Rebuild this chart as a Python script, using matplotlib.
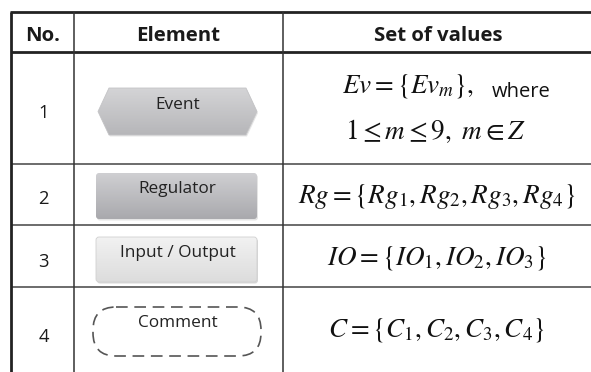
import matplotlib
matplotlib.use("Agg")
import matplotlib.pyplot as plt
import numpy as np
from matplotlib.patches import Polygon, FancyBboxPatch

# ---- table content ----
headers = ["No.", "Element", "Set of values"]
numbers = ["1", "2", "3", "4"]
elements = ["Event", "Regulator", "Input / Output", "Comment"]
formulas = [
    r"$Ev=\{Ev_m\},$",
    r"$Rg=\{Rg_1,Rg_2,Rg_3,Rg_4\}$",
    r"$IO=\{IO_1,IO_2,IO_3\}$",
    r"$C=\{C_1,C_2,C_3,C_4\}$",
]
formula_extra = r"$1\leq m\leq 9,\ m\in Z$"
where_word = "where"

plt.rcParams['mathtext.fontset'] = 'stix'
SANS = ['Open Sans', 'DejaVu Sans']

W, H = 591, 372
fig = plt.figure(figsize=(W / 100, H / 100), dpi=100)
ax = fig.add_axes([0, 0, 1, 1])
ax.set_xlim(0, W)
ax.set_ylim(H, 0)
ax.axis('off')

# ---- grid lines ----
x_left, x_c1, x_c2, x_right = 11, 74, 283, 591
y_top, y_head = 12, 52
row_bounds = [52, 164, 225, 287, 372]
ax.plot([x_left - 1.5, x_right], [y_top, y_top], color='#222222', lw=2.0, solid_capstyle='butt')
ax.plot([x_left, x_right], [y_head, y_head], color='#222222', lw=2.0, solid_capstyle='butt')
for yb in row_bounds[1:-1]:
    ax.plot([x_left, x_right], [yb, yb], color='#444444', lw=1.1, solid_capstyle='butt')
ax.plot([x_left, x_left], [y_top, H], color='#222222', lw=2.0, solid_capstyle='butt')
for xc in (x_c1, x_c2):
    ax.plot([xc, xc], [y_top, H], color='#333333', lw=1.1, solid_capstyle='butt')

# ---- header ----
hx = [(x_left + x_c1) / 2, (x_c1 + x_c2) / 2, 438]
for t, xx in zip(headers, hx):
    ax.text(xx, 41, t, ha='center', va='baseline', fontsize=14.7, fontweight='bold',
            family=SANS, color='#1a1a1a')

# ---- numbers ----
num_base = [118, 204, 267, 342]
for t, yy in zip(numbers, num_base):
    ax.text((x_left + x_c1) / 2 + 1, yy, t, ha='center', va='baseline', fontsize=13.2,
            family=SANS, color='#1a1a1a')


def gradient_fill(patch, top, bottom, y0, y1, x0, x1):
    ax.add_patch(patch)
    grad = np.linspace(0, 1, 64)[:, None]
    c0 = np.array(matplotlib.colors.to_rgb(top))
    c1 = np.array(matplotlib.colors.to_rgb(bottom))
    img = c0[None, None, :] * (1 - grad[..., None]) + c1[None, None, :] * grad[..., None]
    img = np.repeat(img, 2, axis=1)
    im = ax.imshow(img, extent=[x0, x1, y1, y0], aspect='auto', zorder=2)
    im.set_clip_path(patch)

# Event hexagon
ex0, ex1, ey0, ey1 = 98, 257, 88, 135
ym = (ey0 + ey1) / 2
hexpts = [(ex0, ym), (ex0 + 11, ey0), (ex1 - 11, ey0), (ex1, ym), (ex1 - 11, ey1), (ex0 + 11, ey1)]
ax.add_patch(Polygon([(x + 1, y + 1.5) for x, y in hexpts], closed=True, fc='#e6e6e6', ec='none', zorder=1))
hexp = Polygon(hexpts, closed=True, fc='none', ec='none', zorder=3)
gradient_fill(hexp, '#d4d4d6', '#b6b6b9', ey0, ey1, ex0, ex1)
ax.add_patch(Polygon(hexpts, closed=True, fc='none', ec='#c4c4c6', lw=0.6, zorder=3))

# Regulator box
rx0, rx1, ry0, ry1 = 96, 257, 173, 219
ax.add_patch(FancyBboxPatch((rx0 + 1, ry0 + 1.5), rx1 - rx0, ry1 - ry0,
                            boxstyle='round,pad=0,rounding_size=3', fc='#e4e4e4', ec='none', zorder=1))
regp = FancyBboxPatch((rx0, ry0), rx1 - rx0, ry1 - ry0, boxstyle='round,pad=0,rounding_size=3',
                      fc='none', ec='none', zorder=3)
gradient_fill(regp, '#cfcfd2', '#a9a9ad', ry0, ry1, rx0, rx1)

# Input/Output box
ix0, ix1, iy0, iy1 = 96, 257, 237, 282
ax.add_patch(FancyBboxPatch((ix0 + 1, iy0 + 1.5), ix1 - ix0, iy1 - iy0,
                            boxstyle='round,pad=0,rounding_size=3', fc='#d8d8d8', ec='none', zorder=1))
iop = FancyBboxPatch((ix0, iy0), ix1 - ix0, iy1 - iy0, boxstyle='round,pad=0,rounding_size=3',
                     fc='none', ec='none', zorder=3)
gradient_fill(iop, '#f2f2f2', '#dcdcdc', iy0, iy1, ix0, ix1)
ax.add_patch(FancyBboxPatch((ix0, iy0), ix1 - ix0, iy1 - iy0, boxstyle='round,pad=0,rounding_size=3',
                            fc='none', ec='#d0d0d0', lw=0.6, zorder=3))

# Comment dashed rounded shape
cx0, cx1, cy0, cy1 = 93, 261, 307, 356
ax.add_patch(FancyBboxPatch((cx0, cy0), cx1 - cx0, cy1 - cy0,
                            boxstyle='round,pad=0,rounding_size=23', fc='none', ec='#555555',
                            lw=1.2, ls=(0, (7, 4)), zorder=3))

# element labels
elem_base = [109, 193, 257, 327]
for t, yy in zip(elements, elem_base):
    ax.text((ex0 + ex1) / 2, yy, t, ha='center', va='baseline', fontsize=12.4,
            family=SANS, color='#222222', zorder=4)

# ---- formulas ----
MS = 19.5
ax.text(342, 92, formulas[0], ha='left', va='baseline', fontsize=MS, color='#111111')
ax.text(492, 97, where_word, ha='left', va='baseline', fontsize=14.5, family=SANS, color='#111111')
ax.text(345, 139, formula_extra, ha='left', va='baseline', fontsize=MS, color='#111111')
form_base = [None, 203, 264, 336]
for t, yy in zip(formulas[1:], form_base[1:]):
    ax.text(437, yy, t, ha='center', va='baseline', fontsize=MS, color='#111111')

fig.savefig('out.png', dpi=100)
